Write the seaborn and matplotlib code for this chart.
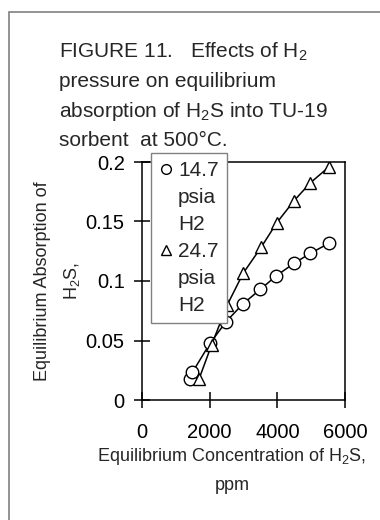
import matplotlib
matplotlib.use('Agg')
import matplotlib.pyplot as plt
import seaborn as sns
from matplotlib.lines import Line2D
from matplotlib.patches import Rectangle

# data
conc_147 = [1420, 1490, 2010, 2485, 2980, 3500, 3975, 4495, 4980, 5525]
abs_147 = [0.0174, 0.0233, 0.0476, 0.0658, 0.0807, 0.093, 0.1045, 0.1149, 0.1233, 0.1317]
conc_247 = [1685, 2060, 2515, 2990, 3520, 3985, 4495, 4980, 5530]
abs_247 = [0.0176, 0.0465, 0.0796, 0.1065, 0.1283, 0.149, 0.1675, 0.1826, 0.196]
series_labels = [['14.7', 'psia', 'H2'], ['24.7', 'psia', 'H2']]
series_markers = ['o', '^']
x_ticks = [0, 2000, 4000, 6000]
y_ticks = [0, 0.05, 0.1, 0.15, 0.2]
y_tick_labels = ['0', '0.05', '0.1', '0.15', '0.2']
title_lines = ['FIGURE 11.   Effects of H$_2$',
               'pressure on equilibrium',
               'absorption of H$_2$S into TU-19',
               'sorbent  at 500\u00b0C.']

sns.set_style('white')
plt.rcParams['font.family'] = ['Liberation Sans', 'DejaVu Sans']
plt.rcParams['mathtext.fontset'] = 'custom'
plt.rcParams['mathtext.rm'] = 'Liberation Sans'
plt.rcParams['mathtext.default'] = 'regular'

fig = plt.figure(figsize=(3.8, 5.2), dpi=100)
ax = fig.add_axes([142/380, 1-400/520, (345-142)/380, (400-162)/520])

mk = dict(color='black', markerfacecolor='white', markeredgecolor='black',
          markersize=9, markeredgewidth=1.0, linewidth=1.1)
sns.lineplot(x=conc_147, y=abs_147, marker=series_markers[0], ax=ax, **mk)
sns.lineplot(x=conc_247, y=abs_247, marker=series_markers[1], ax=ax, **mk)

ax.set_xlim(0, 6000)
ax.set_ylim(0, 0.2)
ax.set_xticks(x_ticks)
ax.set_xticklabels([str(t) for t in x_ticks])
ax.set_yticks(y_ticks)
ax.set_yticklabels(y_tick_labels)
ax.tick_params(axis='both', direction='inout', length=11, width=1.1,
               labelsize=14.5, colors='black', bottom=True, left=True)
ax.tick_params(axis='x', pad=11)
ax.tick_params(axis='y', pad=7)
for s in ax.spines.values():
    s.set_color('black')
    s.set_linewidth(1.1)

ax.set_xlabel('Equilibrium Concentration of H$_2$S,\nppm', fontsize=13,
              linespacing=1.75)
ax.xaxis.set_label_coords((232-142)/(345-142), -(446-400)/(400-162))
ax.set_ylabel('Equilibrium Absorption of\nH$_2$S,', fontsize=13,
              linespacing=1.75)
ax.yaxis.set_label_coords(-(142-82)/(345-142), 0.5)

# legend: marker on first line of each entry
handles, labels = [], []
for m, lab in zip(series_markers, series_labels):
    for j, part in enumerate(lab):
        if j == 0:
            h = Line2D([], [], linestyle='none', marker=m, markerfacecolor='white',
                       markeredgecolor='black', markersize=7)
        else:
            h = Line2D([], [], linestyle='none')
        handles.append(h)
        labels.append(part)
leg = ax.legend(handles, labels, loc='upper left',
                bbox_to_anchor=(151/380, 1-153/520), bbox_transform=fig.transFigure,
                borderaxespad=0, fontsize=15, frameon=True, fancybox=False,
                framealpha=1, edgecolor='#808080', handlelength=0.6,
                handletextpad=0.3, borderpad=0.4, labelspacing=0.38)
leg.get_frame().set_linewidth(1.0)

for i, line in enumerate(title_lines):
    fig.text(59/380, 1-(58+29.3*i)/520, line, fontsize=15, va='baseline', ha='left')

fig.patches.append(Rectangle((9/380, -0.1), 1.2, 1.1-12/520, transform=fig.transFigure,
                             fill=False, edgecolor='#808080', linewidth=1.2))

plt.savefig('out.png', dpi=100)
